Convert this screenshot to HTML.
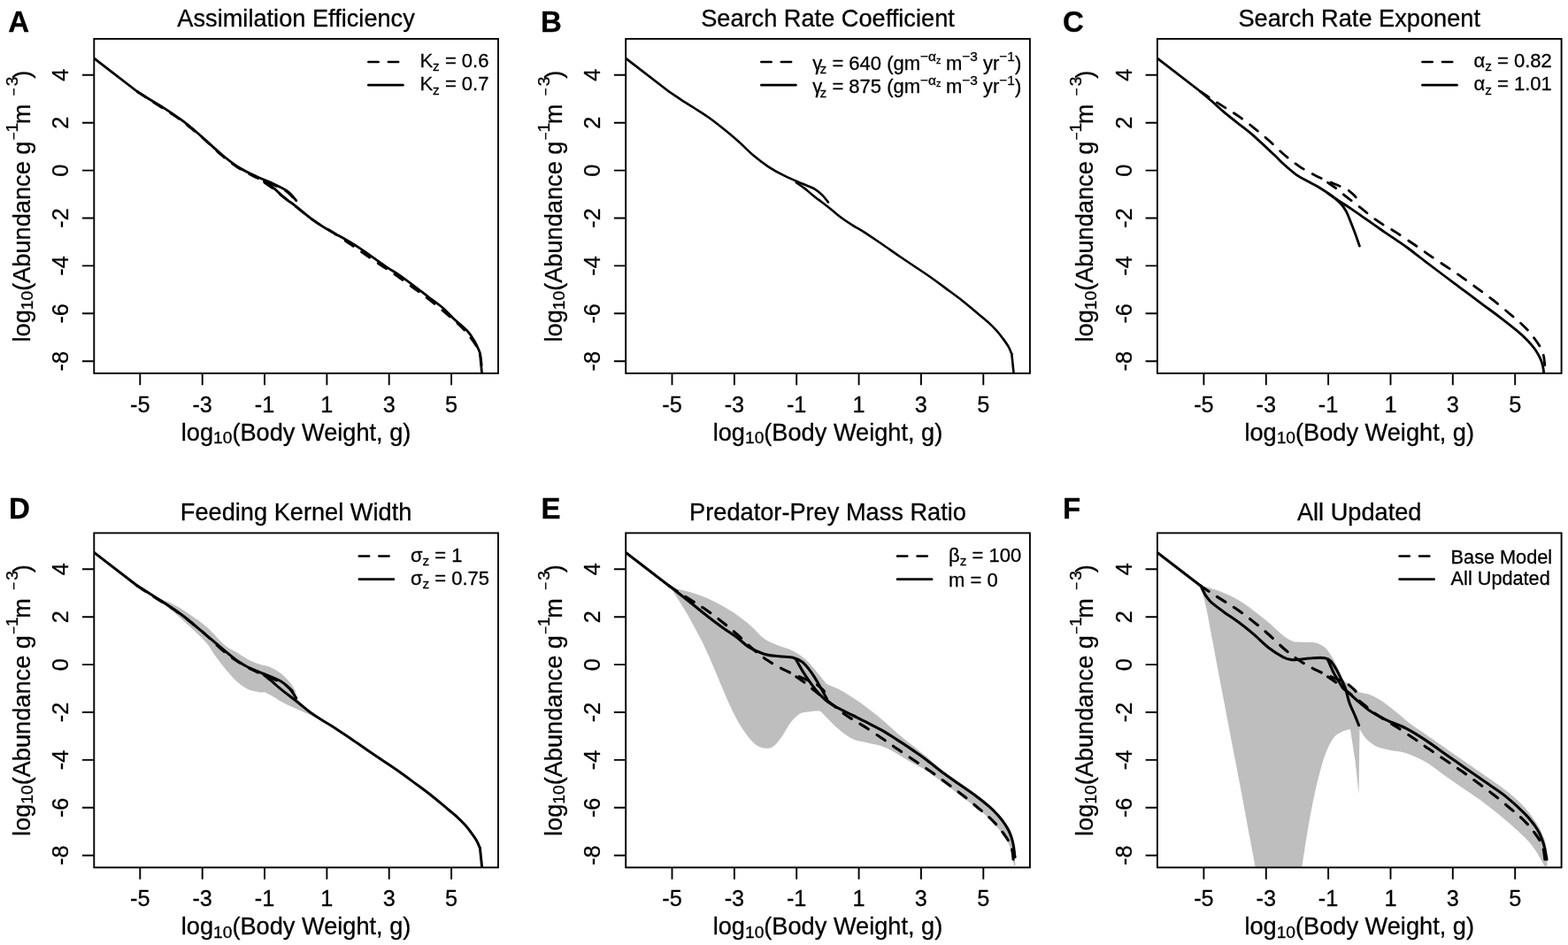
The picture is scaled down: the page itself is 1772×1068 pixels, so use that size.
<!DOCTYPE html>
<html lang="en">
<head>
<meta charset="utf-8">
<title>Size spectrum sensitivity</title>
<style>
html,body{margin:0;padding:0;background:#fff;}
body{width:1772px;height:1068px;overflow:hidden;}
svg{display:block;}
text{font-family:"Liberation Sans", sans-serif;fill:#000;stroke:#000;stroke-width:0.3px;stroke-linejoin:round;}
.t{font-size:27.2px;text-anchor:middle;}
.k{font-size:25.3px;text-anchor:middle;}
.l{font-size:22px;}
.p{font-size:33px;font-weight:bold;}
.c{fill:none;stroke:#000;stroke-width:2.8;stroke-linejoin:round;stroke-linecap:round;}
.d{fill:none;stroke:#000;stroke-width:2.8;stroke-linejoin:round;stroke-linecap:round;stroke-dasharray:11.2 11.3;}
.a{fill:none;stroke:#000;stroke-width:1.9;stroke-linecap:butt;}
.g{fill:#bebebe;stroke:none;}
</style>
</head>
<body>
<svg width="1772" height="1068" viewBox="0 0 1772 1068" role="img" aria-label="Size spectrum sensitivity, six panels A to F">
<rect x="0" y="0" width="1772" height="1068" fill="#fff"/>
<g transform="translate(0 0)">
<clipPath id="cp0"><rect x="106.3" y="43.9" width="456.7" height="378"/></clipPath>
<g clip-path="url(#cp0)">
<path class="d" d="M155.1 103.5 C157.4 105 164.3 109.7 169 112.8 C173.7 115.9 178.4 118.8 183.5 122 C188.6 125.2 193.9 128.4 199.3 132.2 C204.7 136 210.4 140.5 216 145 C221.6 149.5 227 153.9 232.7 159 C238.4 164.1 244.6 170.6 250.4 175.5 C256.2 180.4 261.4 184.4 267.3 188.3 C273.2 192.2 279.6 195.7 286.1 198.9 C292.6 202.2 300.5 205.3 306.2 207.8 C311.9 210.3 316.4 211.7 320.1 213.8 C323.8 215.9 326 218.2 328.5 220.6 C331 223 333.9 227.2 335 228.5"/>
<path class="d" d="M298.9 206.3 C300.4 207.4 305.1 210.4 308 212.6 C310.9 214.8 313.1 216.9 316.2 219.4 C319.2 221.9 322.5 224.4 326.3 227.3 C330.1 230.2 334.8 233.8 338.8 237 C342.8 240.2 346.5 243.6 350.5 246.5 C354.5 249.4 358.3 251.9 362.6 254.6 C366.9 257.3 371.1 259.4 376.5 262.9 C381.9 266.4 389.2 271.4 395.3 275.5 C401.4 279.6 406.8 283.6 413 287.8 C419.2 292.1 426.2 296.8 432.5 301 C438.8 305.2 444.6 309 450.7 313.3 C456.8 317.6 462.9 322.2 468.9 326.6 C474.9 331 480.6 335.1 486.5 339.7 C492.4 344.3 499 350 504 354.2 C509 358.4 513.1 361.7 516.6 364.9 C520.1 368.1 522.7 370.8 525.3 373.6 C527.9 376.4 529.8 378.9 532 381.9 C534.2 384.9 536.9 388.4 538.7 391.7 C540.5 395 541.8 398 542.7 401.5 C543.6 405 544 411 544.2 412.9"/>
<path class="c" d="M106.3 65.9 L155.1 103.5"/>
<path class="c" d="M155.1 103.5 C157.4 105 164.3 109.3 169 112.2 C173.7 115.1 177.2 116.9 183.5 121 C189.8 125.1 199.7 131.5 206.9 136.9 C214.2 142.3 219.8 147.3 227 153.6 C234.2 159.9 243.2 168.5 250.4 174.5 C257.6 180.5 263.7 185.3 270.4 189.5 C277.1 193.7 284 196.7 290.4 199.7 C296.8 202.7 303 204.8 308.5 207.4 C314 210 319.9 212.8 323.5 215.1 C327.1 217.4 328.1 219.1 330 221 C331.9 222.9 334 225.8 334.8 226.8"/>
<path class="c" d="M298.5 205.1 C300.2 206.2 305.4 209.4 308.5 211.8 C311.6 214.2 314 217 316.8 219.4 C319.6 221.8 322.6 224.4 325.2 226.5 C327.8 228.6 327.8 228 332.5 231.7 C337.2 235.3 347.1 243.8 353.4 248.4 C359.7 253 364.5 256 370.1 259.3 C375.7 262.7 381.2 265.3 386.8 268.5 C392.4 271.7 397.9 274.9 403.5 278.5 C409.1 282.1 414.7 286.3 420.3 290.2 C425.9 294.1 432 298.6 437 301.9 C442 305.2 445.1 306.7 450.1 310.1 C455.1 313.5 461.5 318.3 467.1 322.5 C472.7 326.7 478.3 331.1 483.8 335.3 C489.3 339.5 495.4 343.6 500.2 347.7 C505 351.8 507.9 355.7 512.5 360 C517.1 364.3 523.8 369.3 527.7 373.5 C531.7 377.7 533.9 381.6 536.2 385.4 C538.5 389.1 540.2 393.6 541.3 396 C542.4 398.4 542.4 399.3 542.6 400"/>
<path class="c" d="M542.6 400 L543.2 407.4 L544.6 421.9"/>
</g>
<rect class="a" x="106.3" y="43.9" width="456.7" height="378"/>
<path class="a" d="M158.3 421.9v13.3M228.7 421.9v13.3M299 421.9v13.3M369.4 421.9v13.3M439.7 421.9v13.3M510.1 421.9v13.3M106.3 84.8h-13.3M106.3 138.7h-13.3M106.3 192.6h-13.3M106.3 246.5h-13.3M106.3 300.4h-13.3M106.3 354.3h-13.3M106.3 408.2h-13.3"/>
<text class="k" x="158.3" y="465.9">-5</text>
<text class="k" x="228.7" y="465.9">-3</text>
<text class="k" x="299" y="465.9">-1</text>
<text class="k" x="369.4" y="465.9">1</text>
<text class="k" x="439.7" y="465.9">3</text>
<text class="k" x="510.1" y="465.9">5</text>
<text class="k" transform="translate(77.4 84.8) rotate(-90)">4</text>
<text class="k" transform="translate(77.4 138.7) rotate(-90)">2</text>
<text class="k" transform="translate(77.4 192.6) rotate(-90)">0</text>
<text class="k" transform="translate(77.4 246.5) rotate(-90)">-2</text>
<text class="k" transform="translate(77.4 300.4) rotate(-90)">-4</text>
<text class="k" transform="translate(77.4 354.3) rotate(-90)">-6</text>
<text class="k" transform="translate(77.4 408.2) rotate(-90)">-8</text>
<text class="t" x="334.6" y="29.8">Assimilation Efficiency</text>
<text class="t" x="334.6" y="497.8">log<tspan font-size="19.2" dy="3.5">10</tspan><tspan dy="-3.5">(Body Weight, g)</tspan></text>
<text class="t" transform="translate(33.8 233.1) rotate(-90)">log<tspan font-size="19.2" dy="3.5">10</tspan><tspan dy="-3.5">(Abundance g</tspan><tspan font-size="15.5" dy="-13.2" dx="1">−</tspan><tspan font-size="19.2" dy="-0.4">1</tspan><tspan dy="13.6" dx="-1.4">m </tspan><tspan font-size="15.5" dy="-13.2" dx="1.5">−</tspan><tspan font-size="19.2" dy="-0.4" dx="2.2">3</tspan><tspan dy="13.6" dx="-2.2">)</tspan></text>
<path class="d" style="stroke-width:2.7" d="M416.4 70H455.4"/>
<path class="c" style="stroke-width:2.7" d="M416.4 96.2H455.4"/>
<text class="l" x="474.4" y="76">K<tspan font-size="15.4" dy="4.4">z</tspan><tspan dy="-4.4"> = 0.6</tspan></text>
<text class="l" x="474.4" y="102.3">K<tspan font-size="15.4" dy="4.4">z</tspan><tspan dy="-4.4"> = 0.7</tspan></text>
</g>
<text class="p" x="9.2" y="36.2">A</text>
<g transform="translate(600.9 0)">
<clipPath id="cp1"><rect x="106.3" y="43.9" width="456.7" height="378"/></clipPath>
<g clip-path="url(#cp1)">
<path class="c" style="stroke-width:2.6" d="M106.3 65.9 L155.1 103.5"/>
<path class="c" style="stroke-width:2.6" d="M155.1 103.5 C157.4 105 164.3 109.7 169 112.8 C173.7 115.9 178.4 118.8 183.5 122 C188.6 125.2 193.9 128.4 199.3 132.2 C204.7 136 210.4 140.5 216 145 C221.6 149.5 227 153.9 232.7 159 C238.4 164.1 244.6 170.6 250.4 175.5 C256.2 180.4 261.4 184.4 267.3 188.3 C273.2 192.2 279.6 195.7 286.1 198.9 C292.6 202.2 300.5 205.3 306.2 207.8 C311.9 210.3 316.4 211.7 320.1 213.8 C323.8 215.9 326 218.2 328.5 220.6 C331 223 333.9 227.2 335 228.5"/>
<path class="c" style="stroke-width:2.6" d="M298.9 206.3 C300.4 207.4 305.1 210.4 308 212.6 C310.9 214.8 313.1 216.9 316.2 219.4 C319.2 221.9 322.5 224.4 326.3 227.3 C330.1 230.2 334.8 233.8 338.8 237 C342.8 240.2 346.5 243.6 350.5 246.5 C354.5 249.4 358.3 251.9 362.6 254.6 C366.9 257.3 371.1 259.4 376.5 262.9 C381.9 266.4 389.2 271.4 395.3 275.5 C401.4 279.6 406.8 283.6 413 287.8 C419.2 292.1 426.2 296.8 432.5 301 C438.8 305.2 444.6 309 450.7 313.3 C456.8 317.6 462.9 322.2 468.9 326.6 C474.9 331 480.6 335.1 486.5 339.7 C492.4 344.3 499 350 504 354.2 C509 358.4 513.1 361.7 516.6 364.9 C520.1 368.1 522.7 370.8 525.3 373.6 C527.9 376.4 529.8 378.9 532 381.9 C534.2 384.9 537 388.7 538.7 391.7 C540.4 394.7 541.8 398.6 542.4 400"/>
<path class="c" style="stroke-width:2.6" d="M542.4 400 L543.2 407.4 L544.7 421.9"/>
</g>
<rect class="a" x="106.3" y="43.9" width="456.7" height="378"/>
<path class="a" d="M158.6 421.9v13.3M229 421.9v13.3M299.3 421.9v13.3M369.7 421.9v13.3M440 421.9v13.3M510.4 421.9v13.3M106.3 84.8h-13.3M106.3 138.7h-13.3M106.3 192.6h-13.3M106.3 246.5h-13.3M106.3 300.4h-13.3M106.3 354.3h-13.3M106.3 408.2h-13.3"/>
<text class="k" x="158.6" y="465.9">-5</text>
<text class="k" x="229" y="465.9">-3</text>
<text class="k" x="299.3" y="465.9">-1</text>
<text class="k" x="369.7" y="465.9">1</text>
<text class="k" x="440" y="465.9">3</text>
<text class="k" x="510.4" y="465.9">5</text>
<text class="k" transform="translate(77.4 84.8) rotate(-90)">4</text>
<text class="k" transform="translate(77.4 138.7) rotate(-90)">2</text>
<text class="k" transform="translate(77.4 192.6) rotate(-90)">0</text>
<text class="k" transform="translate(77.4 246.5) rotate(-90)">-2</text>
<text class="k" transform="translate(77.4 300.4) rotate(-90)">-4</text>
<text class="k" transform="translate(77.4 354.3) rotate(-90)">-6</text>
<text class="k" transform="translate(77.4 408.2) rotate(-90)">-8</text>
<text class="t" x="334.6" y="29.8">Search Rate Coefficient</text>
<text class="t" x="334.6" y="497.8">log<tspan font-size="19.2" dy="3.5">10</tspan><tspan dy="-3.5">(Body Weight, g)</tspan></text>
<text class="t" transform="translate(33.8 233.1) rotate(-90)">log<tspan font-size="19.2" dy="3.5">10</tspan><tspan dy="-3.5">(Abundance g</tspan><tspan font-size="15.5" dy="-13.2" dx="1">−</tspan><tspan font-size="19.2" dy="-0.4">1</tspan><tspan dy="13.6" dx="-1.4">m </tspan><tspan font-size="15.5" dy="-13.2" dx="1.5">−</tspan><tspan font-size="19.2" dy="-0.4" dx="2.2">3</tspan><tspan dy="13.6" dx="-2.2">)</tspan></text>
<path class="d" style="stroke-width:2.7" d="M259.5 70H298.5"/>
<path class="c" style="stroke-width:2.7" d="M259.5 96.2H298.5"/>
<text class="l" x="317.3" y="78.9">γ<tspan font-size="15.4" dy="4.4" dx="-2.6">z</tspan><tspan dy="-4.4"> = 640 (gm</tspan><tspan font-size="15.4" dy="-9.6">−α</tspan><tspan font-size="10.8" dy="2.6">z</tspan><tspan dy="7" dx="-0.5"> m</tspan><tspan font-size="15.4" dy="-9.6">−3</tspan><tspan dy="9.6"> yr</tspan><tspan font-size="15.4" dy="-9.6">−1</tspan><tspan dy="9.6">)</tspan></text>
<text class="l" x="317.3" y="105.1">γ<tspan font-size="15.4" dy="4.4" dx="-2.6">z</tspan><tspan dy="-4.4"> = 875 (gm</tspan><tspan font-size="15.4" dy="-9.6">−α</tspan><tspan font-size="10.8" dy="2.6">z</tspan><tspan dy="7" dx="-0.5"> m</tspan><tspan font-size="15.4" dy="-9.6">−3</tspan><tspan dy="9.6"> yr</tspan><tspan font-size="15.4" dy="-9.6">−1</tspan><tspan dy="9.6">)</tspan></text>
</g>
<text class="p" x="611" y="36.2">B</text>
<g transform="translate(1201.6 0)">
<clipPath id="cp2"><rect x="106.3" y="43.9" width="456.7" height="378"/></clipPath>
<g clip-path="url(#cp2)">
<path class="d" d="M155.1 103.5 C157.4 105 164.3 109.7 169 112.8 C173.7 115.9 178.4 118.8 183.5 122 C188.6 125.2 193.9 128.4 199.3 132.2 C204.7 136 210.4 140.5 216 145 C221.6 149.5 227 153.9 232.7 159 C238.4 164.1 244.6 170.6 250.4 175.5 C256.2 180.4 261.4 184.4 267.3 188.3 C273.2 192.2 279.6 195.7 286.1 198.9 C292.6 202.2 300.5 205.3 306.2 207.8 C311.9 210.3 316.4 211.7 320.1 213.8 C323.8 215.9 326 218.2 328.5 220.6 C331 223 333.9 227.2 335 228.5"/>
<path class="d" d="M298.9 206.3 C300.4 207.4 305.1 210.4 308 212.6 C310.9 214.8 313.1 216.9 316.2 219.4 C319.2 221.9 322.5 224.4 326.3 227.3 C330.1 230.2 334.8 233.8 338.8 237 C342.8 240.2 346.5 243.6 350.5 246.5 C354.5 249.4 358.3 251.9 362.6 254.6 C366.9 257.3 371.1 259.4 376.5 262.9 C381.9 266.4 389.2 271.4 395.3 275.5 C401.4 279.6 406.8 283.6 413 287.8 C419.2 292.1 426.2 296.8 432.5 301 C438.8 305.2 444.6 309 450.7 313.3 C456.8 317.6 462.9 322.2 468.9 326.6 C474.9 331 480.6 335.1 486.5 339.7 C492.4 344.3 499 350 504 354.2 C509 358.4 513.1 361.7 516.6 364.9 C520.1 368.1 522.7 370.8 525.3 373.6 C527.9 376.4 529.8 378.9 532 381.9 C534.2 384.9 536.9 388.4 538.7 391.7 C540.5 395 541.8 398 542.7 401.5 C543.6 405 544 411 544.2 412.9"/>
<path class="c" d="M106.3 65.9 L155.1 103.5"/>
<path class="c" d="M155.1 103.5 C157.2 105.3 163.5 110.6 168 114.5 C172.5 118.4 176.9 122.7 181.9 126.9 C186.9 131.1 192.4 135.4 198 139.8 C203.6 144.2 208.6 147.7 215.3 153.6 C222 159.5 232.8 169.8 238.4 175.1 C244 180.4 244.6 181.6 248.8 185.3 C253 189.1 259 194.3 263.5 197.6 C268 200.8 271.8 202.5 276 204.8 C280.2 207.1 284 208.7 288.6 211.5 C293.2 214.3 299.5 218.4 303.7 221.5 C307.9 224.6 311.1 227.5 313.7 230.3 C316.3 233.1 317.8 235.6 319.5 238.5 C321.2 241.4 321.9 243.6 323.7 247.9 C325.4 252.2 328.1 259.2 330 264.2 C331.9 269.2 334 275.7 334.8 278"/>
<path class="c" d="M298.9 218.3 C301.4 220 309.1 225.4 313.7 228.4 C318.3 231.4 322.1 233.8 326.3 236.6 C330.5 239.4 334.6 242.4 338.8 245.3 C343 248.2 347.2 251.2 351.4 254.1 C355.6 257 359.7 260 363.9 262.9 C368.1 265.8 372.3 268.4 376.5 271.3 C380.7 274.2 384.2 276.5 389 280 C393.8 283.5 399.5 288.1 405.3 292.5 C411.1 296.9 416.4 301 423.7 306.5 C430.9 312 440.4 319 448.8 325.3 C457.2 331.6 468.4 340 473.9 344.1 C479.4 348.2 478 347.1 482 350 C486 352.9 492.4 357.7 497.7 361.8 C502.9 365.9 508.9 370.5 513.5 374.4 C518.1 378.3 522 382 525.3 385.4 C528.6 388.8 530.9 391.6 533.1 394.8 C535.3 398 537.2 401.3 538.7 404.3 C540.2 407.3 541 410 541.8 412.9 C542.5 415.8 543 420.4 543.2 421.9"/>
</g>
<rect class="a" x="106.3" y="43.9" width="456.7" height="378"/>
<path class="a" d="M158.8 421.9v13.3M229.2 421.9v13.3M299.5 421.9v13.3M369.9 421.9v13.3M440.2 421.9v13.3M510.6 421.9v13.3M106.3 84.8h-13.3M106.3 138.7h-13.3M106.3 192.6h-13.3M106.3 246.5h-13.3M106.3 300.4h-13.3M106.3 354.3h-13.3M106.3 408.2h-13.3"/>
<text class="k" x="158.8" y="465.9">-5</text>
<text class="k" x="229.2" y="465.9">-3</text>
<text class="k" x="299.5" y="465.9">-1</text>
<text class="k" x="369.9" y="465.9">1</text>
<text class="k" x="440.2" y="465.9">3</text>
<text class="k" x="510.6" y="465.9">5</text>
<text class="k" transform="translate(77.4 84.8) rotate(-90)">4</text>
<text class="k" transform="translate(77.4 138.7) rotate(-90)">2</text>
<text class="k" transform="translate(77.4 192.6) rotate(-90)">0</text>
<text class="k" transform="translate(77.4 246.5) rotate(-90)">-2</text>
<text class="k" transform="translate(77.4 300.4) rotate(-90)">-4</text>
<text class="k" transform="translate(77.4 354.3) rotate(-90)">-6</text>
<text class="k" transform="translate(77.4 408.2) rotate(-90)">-8</text>
<text class="t" x="334.6" y="29.8">Search Rate Exponent</text>
<text class="t" x="334.6" y="497.8">log<tspan font-size="19.2" dy="3.5">10</tspan><tspan dy="-3.5">(Body Weight, g)</tspan></text>
<text class="t" transform="translate(33.8 233.1) rotate(-90)">log<tspan font-size="19.2" dy="3.5">10</tspan><tspan dy="-3.5">(Abundance g</tspan><tspan font-size="15.5" dy="-13.2" dx="1">−</tspan><tspan font-size="19.2" dy="-0.4">1</tspan><tspan dy="13.6" dx="-1.4">m </tspan><tspan font-size="15.5" dy="-13.2" dx="1.5">−</tspan><tspan font-size="19.2" dy="-0.4" dx="2.2">3</tspan><tspan dy="13.6" dx="-2.2">)</tspan></text>
<path class="d" style="stroke-width:2.7" d="M405.9 70H444.9"/>
<path class="c" style="stroke-width:2.7" d="M405.9 96.2H444.9"/>
<text class="l" x="463.9" y="76">α<tspan font-size="15.4" dy="4.4">z</tspan><tspan dy="-4.4"> = 0.82</tspan></text>
<text class="l" x="463.9" y="102.3">α<tspan font-size="15.4" dy="4.4">z</tspan><tspan dy="-4.4"> = 1.01</tspan></text>
</g>
<text class="p" x="1201" y="36.2">C</text>
<g transform="translate(0 558.5)">
<clipPath id="cp3"><rect x="106.3" y="43.9" width="456.7" height="378"/></clipPath>
<g clip-path="url(#cp3)">
<path class="g" d="M171.8 115 C174 115.8 180.3 117.8 185 119.8 C189.7 121.8 195 123.8 200.2 126.7 C205.4 129.6 210.4 133.1 216 137 C221.6 140.9 227.1 144.3 233.6 150.1 C240.1 155.9 249.5 166.9 255.1 171.6 C260.7 176.3 262.9 176 267.1 178.5 C271.3 181 276.1 184.5 280.2 186.7 C284.3 188.9 287.8 190.3 292 191.8 C296.2 193.3 301 193.6 305.3 195.5 C309.6 197.4 314.1 200.1 317.9 203 C321.7 205.9 325.2 209.7 327.9 213 C330.6 216.3 333.1 221.4 334.2 223.1 L334.2 223.1 L335 231 L343 239.5 L350.5 245.7 L357 251.5 L357 251.5 C355.9 251.2 352.8 250.3 350.5 249.4 C348.2 248.5 346.4 247.8 343 246.3 C339.6 244.8 334.6 242.6 330.4 240.6 C326.2 238.6 322.1 236.7 317.9 234.4 C313.7 232.1 308.4 228.6 305.3 226.8 C302.2 225 300.1 224.2 299 223.7 L299 223.7 C298 223.7 295.9 224.2 292.8 223.7 C289.7 223.2 284.4 222.6 280.2 220.6 C276 218.6 271.9 215.6 267.7 211.8 C263.5 208 259.3 203 255.1 198 C250.9 193 246.2 186.6 242.6 181.7 C239 176.8 237.9 173.5 233.6 168.5 C229.3 163.5 222.5 157.1 216.9 151.8 C211.3 146.5 205.5 141.2 200.2 136.7 C194.9 132.1 189.7 128 185 124.5 C180.3 121 174 117.2 171.8 115.8Z"/>
<path class="d" style="stroke-width:3.0" d="M155.1 103.5 C157.4 105 164.3 109.7 169 112.8 C173.7 115.9 178.4 118.8 183.5 122 C188.6 125.2 193.9 128.4 199.3 132.2 C204.7 136 210.4 140.5 216 145 C221.6 149.5 227 153.9 232.7 159 C238.4 164.1 244.6 170.6 250.4 175.5 C256.2 180.4 261.4 184.4 267.3 188.3 C273.2 192.2 279.6 195.7 286.1 198.9 C292.6 202.2 300.5 205.3 306.2 207.8 C311.9 210.3 316.4 211.7 320.1 213.8 C323.8 215.9 326 218.2 328.5 220.6 C331 223 333.9 227.2 335 228.5"/>
<path class="c" style="stroke-width:3.0" d="M106.3 65.9 L155.1 103.5"/>
<path class="c" style="stroke-width:3.0" d="M155.1 103.5 C157.4 105 164.3 109.2 169 112.2 C173.7 115.2 177.2 117.2 183.5 121.4 C189.8 125.6 199.2 131.6 206.9 137.5 C214.7 143.4 222 149.9 230 156.6 C238 163.3 248.4 172.4 255.1 177.9 C261.8 183.4 265.8 186.7 270 189.6 C274.2 192.5 275.6 193.3 280.2 195.5 C284.8 197.7 291.5 200.3 297.8 203 C304.1 205.7 312.9 208.9 317.9 211.8 C322.9 214.7 325.1 217.5 327.9 220.6 C330.7 223.7 333.6 228.9 334.8 230.6"/>
<path class="c" style="stroke-width:3.0" d="M298.3 204.4 C299.9 205.7 305 209.7 308 212.2 C311 214.7 313.1 216.9 316.2 219.4 C319.2 221.9 322.5 224.4 326.3 227.3 C330.1 230.2 334.8 233.8 338.8 237 C342.8 240.2 346.5 243.6 350.5 246.5 C354.5 249.4 358.3 251.9 362.6 254.6 C366.9 257.3 371.1 259.4 376.5 262.9 C381.9 266.4 389.2 271.4 395.3 275.5 C401.4 279.6 406.8 283.6 413 287.8 C419.2 292.1 426.2 296.8 432.5 301 C438.8 305.2 444.6 309 450.7 313.3 C456.8 317.6 462.9 322.2 468.9 326.6 C474.9 331 480.6 335.1 486.5 339.7 C492.4 344.3 499 350 504 354.2 C509 358.4 513.1 361.7 516.6 364.9 C520.1 368.1 522.7 370.8 525.3 373.6 C527.9 376.4 529.8 378.9 532 381.9 C534.2 384.9 537 388.7 538.7 391.7 C540.4 394.7 541.8 398.6 542.4 400"/>
<path class="c" style="stroke-width:3.0" d="M542.4 400 L543.2 407.4 L544.7 421.9"/>
</g>
<rect class="a" x="106.3" y="43.9" width="456.7" height="378"/>
<path class="a" d="M158.3 421.9v13.3M228.7 421.9v13.3M299 421.9v13.3M369.4 421.9v13.3M439.7 421.9v13.3M510.1 421.9v13.3M106.3 84.8h-13.3M106.3 138.7h-13.3M106.3 192.6h-13.3M106.3 246.5h-13.3M106.3 300.4h-13.3M106.3 354.3h-13.3M106.3 408.2h-13.3"/>
<text class="k" x="158.3" y="465.9">-5</text>
<text class="k" x="228.7" y="465.9">-3</text>
<text class="k" x="299" y="465.9">-1</text>
<text class="k" x="369.4" y="465.9">1</text>
<text class="k" x="439.7" y="465.9">3</text>
<text class="k" x="510.1" y="465.9">5</text>
<text class="k" transform="translate(77.4 84.8) rotate(-90)">4</text>
<text class="k" transform="translate(77.4 138.7) rotate(-90)">2</text>
<text class="k" transform="translate(77.4 192.6) rotate(-90)">0</text>
<text class="k" transform="translate(77.4 246.5) rotate(-90)">-2</text>
<text class="k" transform="translate(77.4 300.4) rotate(-90)">-4</text>
<text class="k" transform="translate(77.4 354.3) rotate(-90)">-6</text>
<text class="k" transform="translate(77.4 408.2) rotate(-90)">-8</text>
<text class="t" x="334.6" y="29.8">Feeding Kernel Width</text>
<text class="t" x="334.6" y="497.8">log<tspan font-size="19.2" dy="3.5">10</tspan><tspan dy="-3.5">(Body Weight, g)</tspan></text>
<text class="t" transform="translate(33.8 233.1) rotate(-90)">log<tspan font-size="19.2" dy="3.5">10</tspan><tspan dy="-3.5">(Abundance g</tspan><tspan font-size="15.5" dy="-13.2" dx="1">−</tspan><tspan font-size="19.2" dy="-0.4">1</tspan><tspan dy="13.6" dx="-1.4">m </tspan><tspan font-size="15.5" dy="-13.2" dx="1.5">−</tspan><tspan font-size="19.2" dy="-0.4" dx="2.2">3</tspan><tspan dy="13.6" dx="-2.2">)</tspan></text>
<path class="d" style="stroke-width:2.7" d="M405.9 70H444.9"/>
<path class="c" style="stroke-width:2.7" d="M405.9 96.2H444.9"/>
<text class="l" x="463.9" y="76">σ<tspan font-size="15.4" dy="4.4">z</tspan><tspan dy="-4.4"> = 1</tspan></text>
<text class="l" x="463.9" y="102.3">σ<tspan font-size="15.4" dy="4.4">z</tspan><tspan dy="-4.4"> = 0.75</tspan></text>
</g>
<text class="p" x="10" y="586.3">D</text>
<g transform="translate(600.9 558.5)">
<clipPath id="cp4"><rect x="106.3" y="43.9" width="456.7" height="378"/></clipPath>
<g clip-path="url(#cp4)">
<path class="g" d="M162.6 106.7 C165.9 107.5 176.5 109.8 182.6 111.7 C188.7 113.6 193.7 115.5 199.3 118 C204.9 120.5 210.4 123.3 216 126.5 C221.6 129.7 227.1 133 232.7 137 C238.3 141 244.5 146 249.5 150.4 C254.5 154.8 257.6 159.8 262.6 163.3 C267.6 166.8 273.7 168.9 279.3 171.3 C284.9 173.7 290.4 174.4 296 177.5 C301.6 180.6 307.1 184.5 312.7 189.9 C318.3 195.3 325.9 205.7 329.5 209.9 C333.1 214.1 331.7 213.3 334.5 215 C337.3 216.7 341.5 217.5 346.2 220 C350.9 222.5 357.3 226.4 362.9 230 C368.5 233.6 374 237.5 379.6 241.7 C385.2 245.9 390.7 250.4 396.3 255.1 C401.9 259.8 407.4 265.4 413 270.1 C418.6 274.8 424.1 279.1 429.7 283.5 C435.3 287.9 440.3 291.8 446.4 296.8 C452.5 301.9 457.5 307 466.5 313.8 C475.5 320.6 491.8 331.2 500.2 337.4 C508.6 343.6 511.5 345.5 517.1 350.8 C522.7 356.1 529.8 363.5 534 369.4 C538.2 375.3 540.5 381.2 542.4 386.3 C544.3 391.4 544.8 394.4 545.5 400 C546.2 405.6 546.3 416.7 546.5 420 L545 420 C544.8 418.9 544.5 416.6 543.8 413.2 C543.1 409.8 542.3 404.2 540.7 399.7 C539.1 395.2 537.9 391.7 534 386.2 C530.1 380.7 522.7 372.5 517.1 366.9 C511.5 361.3 508.6 359.1 500.2 352.5 C491.8 345.9 475.5 333.8 466.5 327.2 C457.5 320.6 452.5 316.6 446.4 312.7 C440.3 308.8 435.3 306.7 429.7 303.5 C424.1 300.3 418.6 296.6 413 293.5 C407.4 290.4 401.9 287.2 396.3 285.1 C390.7 283 385.2 282.3 379.6 280.9 C374 279.5 368.5 279.4 362.9 276.8 C357.3 274.2 351.8 269.8 346.2 265.1 C340.6 260.4 333.1 251.8 329.5 248.4 C325.9 245.1 327.2 245.4 324.4 245 C321.6 244.6 316.2 245.4 312.7 245.9 C309.2 246.4 306.6 246.1 303.3 248 C300 249.9 296.4 253.2 293 257.5 C289.6 261.8 286.1 269.3 282.7 274 C279.3 278.7 275.8 283.3 272.4 285.5 C269 287.7 265.5 287.6 262.1 287 C258.7 286.4 255.2 284.8 251.8 282 C248.4 279.2 244.9 274.8 241.5 270 C238.1 265.2 234.6 259.8 231.2 253.5 C227.8 247.2 224.3 239.7 220.9 232 C217.5 224.3 214 215.6 210.6 207.5 C207.2 199.4 203.7 191.1 200.3 183.5 C196.9 175.9 194.3 170.2 190 161.8 C185.7 153.4 179.3 141.5 174.3 133 C169.3 124.5 162.5 114.5 160.1 110.8Z"/>
<path class="d" style="stroke-width:3.1" d="M155.1 103.5 C157.4 105 164.3 109.7 169 112.8 C173.7 115.9 178.4 118.8 183.5 122 C188.6 125.2 193.9 128.4 199.3 132.2 C204.7 136 210.4 140.5 216 145 C221.6 149.5 227 153.9 232.7 159 C238.4 164.1 244.6 170.6 250.4 175.5 C256.2 180.4 261.4 184.4 267.3 188.3 C273.2 192.2 279.6 195.7 286.1 198.9 C292.6 202.2 300.5 205.3 306.2 207.8 C311.9 210.3 316.4 211.7 320.1 213.8 C323.8 215.9 326 218.2 328.5 220.6 C331 223 333.9 227.2 335 228.5"/>
<path class="d" style="stroke-width:3.1" d="M298.9 206.3 C300.4 207.4 305.1 210.4 308 212.6 C310.9 214.8 313.1 216.9 316.2 219.4 C319.2 221.9 322.5 224.4 326.3 227.3 C330.1 230.2 334.8 233.8 338.8 237 C342.8 240.2 346.5 243.6 350.5 246.5 C354.5 249.4 358.3 251.9 362.6 254.6 C366.9 257.3 371.1 259.4 376.5 262.9 C381.9 266.4 389.2 271.4 395.3 275.5 C401.4 279.6 406.8 283.6 413 287.8 C419.2 292.1 426.2 296.8 432.5 301 C438.8 305.2 444.6 309 450.7 313.3 C456.8 317.6 462.9 322.2 468.9 326.6 C474.9 331 480.6 335.1 486.5 339.7 C492.4 344.3 499 350 504 354.2 C509 358.4 513.1 361.7 516.6 364.9 C520.1 368.1 522.7 370.8 525.3 373.6 C527.9 376.4 529.8 378.9 532 381.9 C534.2 384.9 536.9 388.4 538.7 391.7 C540.5 395 541.8 398 542.7 401.5 C543.6 405 544 411 544.2 412.9"/>
<path class="c" style="stroke-width:3.1" d="M106.3 65.9 L155.1 103.5"/>
<path class="c" style="stroke-width:3.1" d="M155.1 103.5 C156.3 104.5 158 105.6 162.6 109.2 C167.2 112.8 176.5 120.1 182.6 125 C188.7 129.9 193.7 134.1 199.3 138.4 C204.9 142.7 210.4 146.9 216 150.9 C221.6 154.9 227.7 158.9 232.7 162.6 C237.7 166.3 240.9 170.2 245.9 173.2 C250.9 176.2 257 179 262.6 180.7 C268.2 182.4 273.7 182.5 279.3 183.2 C284.9 183.9 291.5 183.8 296 184.9 C300.5 186 302.8 187.1 306.1 189.9 C309.5 192.7 313.1 197.4 316.1 201.6 C319.2 205.8 321.6 210.3 324.4 215 C327.2 219.7 331.3 227.2 332.8 230 C334.3 232.8 333.5 231.4 333.6 231.7"/>
<path class="c" style="stroke-width:3.1" d="M298.5 186.6 C299.8 188.8 303.7 196 306.1 199.9 C308.5 203.8 309.9 206 312.7 209.9 C315.5 213.8 319.4 219.4 322.8 223.3 C326.2 227.2 328.9 230.2 332.8 233.3 C336.7 236.4 341.2 238.9 346.2 241.7 C351.2 244.5 357.3 247.2 362.9 250 C368.5 252.8 374 255.5 379.6 258.4 C385.2 261.3 390.7 264 396.3 267.2 C401.9 270.4 406.9 273.7 413 277.6 C419.1 281.5 427.2 287 432.8 290.8 C438.4 294.6 440.8 296.3 446.4 300.5 C452 304.7 460.4 311.6 466.5 316.1 C472.6 320.7 477.4 323.9 483 327.8 C488.6 331.7 494.5 335.5 500.2 339.7 C505.9 343.9 512.6 349.3 517.1 353.2 C521.6 357.1 524.2 359.9 527 363 C529.8 366.1 532 369 534 371.8 C536 374.6 537.6 377.2 539 380 C540.4 382.8 541.5 385.7 542.4 388.6 C543.3 391.5 543.9 394.2 544.5 397.5 C545.1 400.8 545.5 406.1 545.8 408.2 C546.1 410.3 546.1 409.7 546.2 410"/>
</g>
<rect class="a" x="106.3" y="43.9" width="456.7" height="378"/>
<path class="a" d="M158.6 421.9v13.3M229 421.9v13.3M299.3 421.9v13.3M369.7 421.9v13.3M440 421.9v13.3M510.4 421.9v13.3M106.3 84.8h-13.3M106.3 138.7h-13.3M106.3 192.6h-13.3M106.3 246.5h-13.3M106.3 300.4h-13.3M106.3 354.3h-13.3M106.3 408.2h-13.3"/>
<text class="k" x="158.6" y="465.9">-5</text>
<text class="k" x="229" y="465.9">-3</text>
<text class="k" x="299.3" y="465.9">-1</text>
<text class="k" x="369.7" y="465.9">1</text>
<text class="k" x="440" y="465.9">3</text>
<text class="k" x="510.4" y="465.9">5</text>
<text class="k" transform="translate(77.4 84.8) rotate(-90)">4</text>
<text class="k" transform="translate(77.4 138.7) rotate(-90)">2</text>
<text class="k" transform="translate(77.4 192.6) rotate(-90)">0</text>
<text class="k" transform="translate(77.4 246.5) rotate(-90)">-2</text>
<text class="k" transform="translate(77.4 300.4) rotate(-90)">-4</text>
<text class="k" transform="translate(77.4 354.3) rotate(-90)">-6</text>
<text class="k" transform="translate(77.4 408.2) rotate(-90)">-8</text>
<text class="t" x="334.6" y="29.8">Predator-Prey Mass Ratio</text>
<text class="t" x="334.6" y="497.8">log<tspan font-size="19.2" dy="3.5">10</tspan><tspan dy="-3.5">(Body Weight, g)</tspan></text>
<text class="t" transform="translate(33.8 233.1) rotate(-90)">log<tspan font-size="19.2" dy="3.5">10</tspan><tspan dy="-3.5">(Abundance g</tspan><tspan font-size="15.5" dy="-13.2" dx="1">−</tspan><tspan font-size="19.2" dy="-0.4">1</tspan><tspan dy="13.6" dx="-1.4">m </tspan><tspan font-size="15.5" dy="-13.2" dx="1.5">−</tspan><tspan font-size="19.2" dy="-0.4" dx="2.2">3</tspan><tspan dy="13.6" dx="-2.2">)</tspan></text>
<path class="d" style="stroke-width:2.7" d="M413.2 70H452.2"/>
<path class="c" style="stroke-width:2.7" d="M413.2 96.2H452.2"/>
<text class="l" x="471.2" y="76">β<tspan font-size="15.4" dy="4.4">z</tspan><tspan dy="-4.4"> = 100</tspan></text>
<text class="l" x="471.2" y="104">m = 0</text>
</g>
<text class="p" x="611.4" y="586.3">E</text>
<g transform="translate(1201.6 558.5)">
<clipPath id="cp5"><rect x="106.3" y="43.9" width="456.7" height="378"/></clipPath>
<g clip-path="url(#cp5)">
<path class="g" d="M156 104 C157.5 104.3 160.9 104.5 165.2 105.8 C169.5 107.1 176.3 109.3 181.9 111.7 C187.5 114.1 193 116.7 198.6 120 C204.2 123.3 209.7 127.5 215.3 131.7 C220.9 135.9 226.4 140.4 232 145.1 C237.6 149.8 244.3 156.6 248.8 160.1 C253.3 163.6 256 164.8 258.8 166 C261.6 167.2 261.6 166.8 265.5 167.1 C269.4 167.4 277.8 166.9 282.2 167.6 C286.6 168.2 289.4 169.5 292.2 171 C295 172.5 296.4 173.6 298.9 176.8 C301.4 180 304.4 184.9 307.2 190.2 C310 195.5 312.9 204.5 315.6 208.6 C318.3 212.7 320.4 212.6 323.2 215 C326 217.4 328.5 221 332.2 222.9 C335.9 224.8 341.5 224.7 345.6 226.2 C349.7 227.7 353.1 229.6 356.9 231.8 C360.6 234.1 364.4 236.9 368.1 239.7 C371.9 242.5 375 245.1 379.4 248.7 C383.8 252.3 389.4 257.4 394.4 261.1 C399.4 264.9 399.3 264.3 409.3 271.2 C419.3 278.1 439.2 292.1 454.2 302.6 C469.2 313.1 488 325.5 499.2 334.1 C510.4 342.7 515.6 347.9 521.6 354.3 C527.6 360.7 531.5 366.7 535.1 372.3 C538.7 377.9 541.2 383.5 543 388.1 C544.8 392.7 545.3 394.7 546 400 C546.7 405.3 546.8 416.7 547 420 L544.1 420.6 C542.2 417.4 536.6 406.9 532.9 401.5 C529.1 396.1 527.2 393.7 521.6 388.1 C516 382.5 506.7 374.2 499.2 367.8 C491.7 361.4 484.2 355.4 476.7 349.8 C469.2 344.2 461.7 339.3 454.2 334.1 C446.7 328.9 439.2 323.6 431.7 318.4 C424.2 313.1 416.8 306.9 409.3 302.6 C401.8 298.3 393.6 294.7 386.8 292.5 C380.1 290.3 374.4 290.5 368.8 289.2 C363.2 287.9 357.6 286.9 353.1 284.7 C348.6 282.4 344.8 278.9 341.8 275.7 C338.8 272.5 336 267.3 334.9 265.6 L334.9 265.6 L334 339.1 L330 302 L324.3 265.6 L324.3 265.6 C322.6 266.2 317.4 267.2 314.2 268.9 C311 270.6 308.2 271.6 305.2 275.7 C302.2 279.8 298.8 287 296.2 293.7 C293.6 300.4 291.8 307.5 289.5 316.1 C287.2 324.7 284.9 334.4 282.7 345.3 C280.4 356.2 278.2 368.5 276 381.3 C273.8 394.1 270.8 415.1 269.7 421.9 L269.7 421.9 L217.1 421.9 L217.1 421.9 C216.1 416.3 213.7 403.9 210.8 388.1 C207.9 372.4 203.2 347.2 199.5 327.4 C195.8 307.6 191.5 286.2 188.3 269.5 C185.1 252.8 182.5 238.8 180.3 227.3 C178.1 215.8 177.1 210.7 175.2 200.4 C173.2 190.1 170.8 177.3 168.6 165.6 C166.4 153.9 163.8 139.3 161.9 130 C160 120.7 157.9 114.3 156.9 110 C155.9 105.7 156.2 105 156 104Z"/>
<path class="d" style="stroke-width:3.1" d="M155.1 103.5 C157.4 105 164.3 109.7 169 112.8 C173.7 115.9 178.4 118.8 183.5 122 C188.6 125.2 193.9 128.4 199.3 132.2 C204.7 136 210.4 140.5 216 145 C221.6 149.5 227 153.9 232.7 159 C238.4 164.1 244.6 170.6 250.4 175.5 C256.2 180.4 261.4 184.4 267.3 188.3 C273.2 192.2 279.6 195.7 286.1 198.9 C292.6 202.2 300.5 205.3 306.2 207.8 C311.9 210.3 316.4 211.7 320.1 213.8 C323.8 215.9 326 218.2 328.5 220.6 C331 223 333.9 227.2 335 228.5"/>
<path class="d" style="stroke-width:3.1" d="M298.9 206.3 C300.4 207.4 305.1 210.4 308 212.6 C310.9 214.8 313.1 216.9 316.2 219.4 C319.2 221.9 322.5 224.4 326.3 227.3 C330.1 230.2 334.8 233.8 338.8 237 C342.8 240.2 346.5 243.6 350.5 246.5 C354.5 249.4 358.3 251.9 362.6 254.6 C366.9 257.3 371.1 259.4 376.5 262.9 C381.9 266.4 389.2 271.4 395.3 275.5 C401.4 279.6 406.8 283.6 413 287.8 C419.2 292.1 426.2 296.8 432.5 301 C438.8 305.2 444.6 309 450.7 313.3 C456.8 317.6 462.9 322.2 468.9 326.6 C474.9 331 480.6 335.1 486.5 339.7 C492.4 344.3 499 350 504 354.2 C509 358.4 513.1 361.7 516.6 364.9 C520.1 368.1 522.7 370.8 525.3 373.6 C527.9 376.4 529.8 378.9 532 381.9 C534.2 384.9 536.9 388.4 538.7 391.7 C540.5 395 541.8 398 542.7 401.5 C543.6 405 544 411 544.2 412.9"/>
<path class="c" style="stroke-width:3.1" d="M106.3 65.9 L155.1 103.5"/>
<path class="c" style="stroke-width:3.1" d="M155.6 103.9 C155.9 104.6 156.7 106.4 157.5 108 C158.3 109.6 159.1 111.5 160.2 113.3 C161.3 115 162.6 116.8 164 118.5 C165.4 120.2 165.6 120.9 168.6 123.4 C171.6 125.9 176.9 129.8 181.9 133.4 C186.9 137 193 140.9 198.6 145.1 C204.2 149.3 209.7 153.7 215.3 158.4 C220.9 163.1 226.4 169.2 232 173.5 C237.6 177.8 244.3 182 248.8 184.3 C253.3 186.6 256 186.8 258.8 187.2 C261.6 187.6 261.6 187.1 265.5 186.8 C269.4 186.5 277.2 185.5 282.2 185.2 C287.2 184.9 292.2 184.6 295.5 185.2 C298.8 185.8 300 186.3 302.2 188.5 C304.4 190.7 306.9 195.2 308.9 198.5 C310.8 201.8 312.2 205.1 313.9 208.6 C315.6 212.1 317.3 215.2 318.9 219.6 C320.4 224 321.4 230 323.2 235.2 C325 240.4 328.1 246.6 329.9 250.9 C331.7 255.2 333.3 259.4 334 261.1"/>
<path class="c" style="stroke-width:3.1" d="M298.9 186.8 C300 189.3 303.7 198 305.6 201.9 C307.6 205.8 308.9 207.4 310.6 210.2 C312.3 213 314.1 216.6 315.6 218.5 C317.1 220.4 318.1 220.6 319.4 221.7 C320.7 222.8 320.7 222.8 323.2 225 C325.7 227.2 330.7 232 334.4 235.2 C338.1 238.4 341.9 241.6 345.6 244.2 C349.4 246.8 353.1 248.8 356.9 250.9 C360.6 253 363.1 254.4 368.1 256.6 C373.1 258.9 379.9 260.8 386.8 264.4 C393.7 267.9 401.8 273 409.3 277.9 C416.8 282.8 424.2 288.4 431.7 293.7 C439.2 298.9 446.7 304.2 454.2 309.4 C461.7 314.6 469.2 319.9 476.7 325.1 C484.2 330.4 491.7 334.9 499.2 340.9 C506.7 346.9 516 355.5 521.6 361.1 C527.2 366.7 530.2 371 532.9 374.6 C535.6 378.2 536.5 380 538 383 C539.5 386 540.8 389.4 541.9 392.6 C543 395.8 543.8 398.6 544.5 402 C545.2 405.4 546.1 411 546.4 412.8"/>
</g>
<rect class="a" x="106.3" y="43.9" width="456.7" height="378"/>
<path class="a" d="M158.8 421.9v13.3M229.2 421.9v13.3M299.5 421.9v13.3M369.9 421.9v13.3M440.2 421.9v13.3M510.6 421.9v13.3M106.3 84.8h-13.3M106.3 138.7h-13.3M106.3 192.6h-13.3M106.3 246.5h-13.3M106.3 300.4h-13.3M106.3 354.3h-13.3M106.3 408.2h-13.3"/>
<text class="k" x="158.8" y="465.9">-5</text>
<text class="k" x="229.2" y="465.9">-3</text>
<text class="k" x="299.5" y="465.9">-1</text>
<text class="k" x="369.9" y="465.9">1</text>
<text class="k" x="440.2" y="465.9">3</text>
<text class="k" x="510.6" y="465.9">5</text>
<text class="k" transform="translate(77.4 84.8) rotate(-90)">4</text>
<text class="k" transform="translate(77.4 138.7) rotate(-90)">2</text>
<text class="k" transform="translate(77.4 192.6) rotate(-90)">0</text>
<text class="k" transform="translate(77.4 246.5) rotate(-90)">-2</text>
<text class="k" transform="translate(77.4 300.4) rotate(-90)">-4</text>
<text class="k" transform="translate(77.4 354.3) rotate(-90)">-6</text>
<text class="k" transform="translate(77.4 408.2) rotate(-90)">-8</text>
<text class="t" x="334.6" y="29.8">All Updated</text>
<text class="t" x="334.6" y="497.8">log<tspan font-size="19.2" dy="3.5">10</tspan><tspan dy="-3.5">(Body Weight, g)</tspan></text>
<text class="t" transform="translate(33.8 233.1) rotate(-90)">log<tspan font-size="19.2" dy="3.5">10</tspan><tspan dy="-3.5">(Abundance g</tspan><tspan font-size="15.5" dy="-13.2" dx="1">−</tspan><tspan font-size="19.2" dy="-0.4">1</tspan><tspan dy="13.6" dx="-1.4">m </tspan><tspan font-size="15.5" dy="-13.2" dx="1.5">−</tspan><tspan font-size="19.2" dy="-0.4" dx="2.2">3</tspan><tspan dy="13.6" dx="-2.2">)</tspan></text>
<path class="d" style="stroke-width:2.7" d="M380 70H419"/>
<path class="c" style="stroke-width:2.7" d="M380 96.2H419"/>
<text class="l" style="font-size:21.7px" x="438" y="78.1">Base Model</text>
<text class="l" style="font-size:21.7px" x="438" y="102">All Updated</text>
</g>
<text class="p" x="1201" y="586.3">F</text>
</svg>
</body>
</html>
